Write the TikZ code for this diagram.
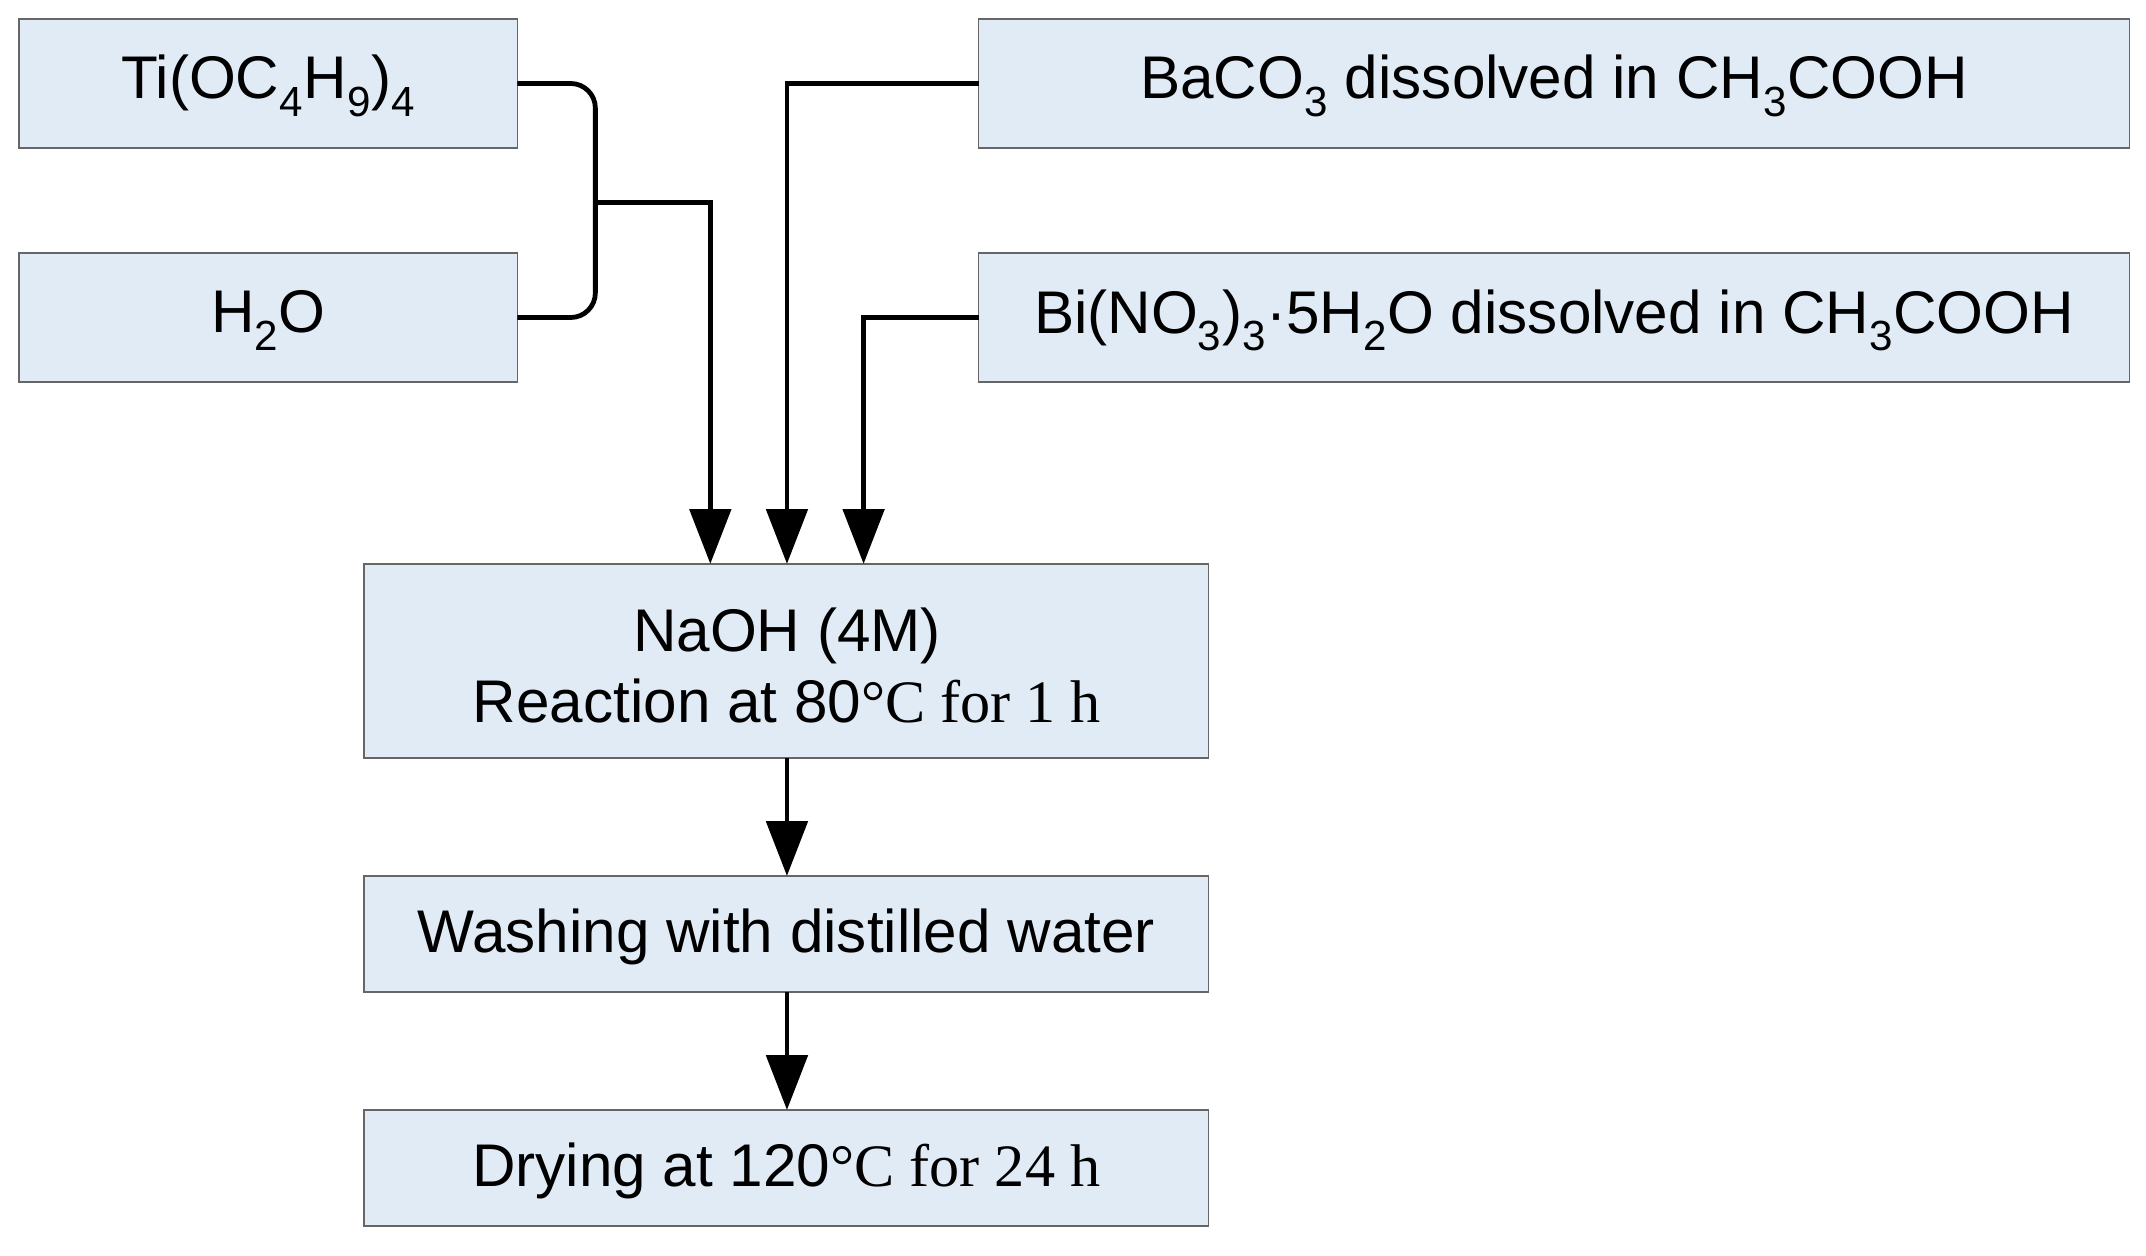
\documentclass[tikz,border=0pt]{standalone}
\usepackage{fontspec}
\setmainfont{Liberation Sans}
\newfontfamily\tms{Liberation Serif}
\usetikzlibrary{arrows.meta}
\begin{document}
\begin{tikzpicture}[x=1pt,y=-1pt,
  box/.style={draw=black!60,line width=1.2pt,fill={rgb,255:red,225;green,235;blue,246}},
  ln/.style={line width=3.5pt,rounded corners=18pt},
  ar/.style={ln,-{Triangle[length=40pt,width=30pt]}},
  every node/.style={font=\fontsize{44}{52}\selectfont}]
\useasboundingbox (0,0) rectangle (1568,917);
\draw[box] (14,14) rectangle (378,108) node[midway,yshift=-2pt] (ti) {Ti(OC\textsubscript{4}H\textsubscript{9})\textsubscript{4}};
\draw[box] (14,185) rectangle (378,279) node[midway,yshift=-2pt] (h) {H\textsubscript{2}O};
\draw[box] (715,14) rectangle (1556,108) node[midway,yshift=-2pt] (ba) {BaCO\textsubscript{3} dissolved in CH\textsubscript{3}COOH};
\draw[box] (715,185) rectangle (1556,279) node[midway,yshift=-2pt] (bi) {Bi(NO\textsubscript{3})\textsubscript{3}·5H\textsubscript{2}O dissolved in CH\textsubscript{3}COOH};
\draw[box] (266,412) rectangle (883,554);
\node[align=center] (na) at (575,486) {NaOH (4M)\\Reaction at 80{\tms °C for 1 h}};
\draw[box] (266,640) rectangle (883,725) node[midway,yshift=-2pt] (wa) {Washing with distilled water};
\draw[box] (266,811) rectangle (883,896) node[midway,yshift=-2pt] (dr) {Drying at 120{\tms °C for 24 h}};
\coordinate (j) at (435,148);
\draw[ln] (378,61) -- (435,61) -- (435,232) -- (378,232);
\draw[ar,rounded corners=0] (j) -- (519,148) -- (519,412);
\draw[ar,rounded corners=0] (715,61) -- (575,61) -- (575,412);
\draw[ar,rounded corners=0] (715,232) -- (631,232) -- (631,412);
\draw[ar] (575,554) -- (575,640);
\draw[ar] (575,725) -- (575,811);
\end{tikzpicture}
\end{document}
